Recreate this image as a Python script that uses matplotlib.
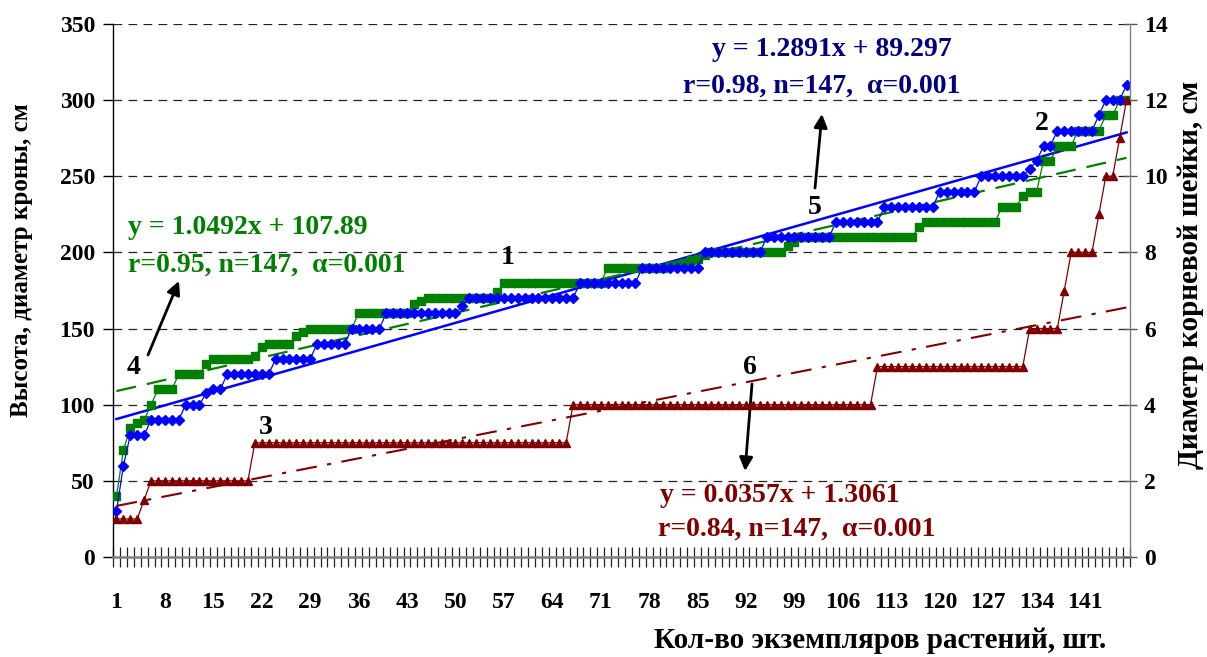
import numpy as np
import matplotlib
matplotlib.use("Agg")
import matplotlib.pyplot as plt
from matplotlib.ticker import FixedLocator, NullFormatter

# ---------------- data ----------------
plant_no = list(range(1, 148))
xtick_labels = [1, 8, 15, 22, 29, 36, 43, 50, 57, 64, 71, 78, 85, 92, 99, 106, 113, 120, 127, 134, 141]

# series 1: height, cm (left axis)
height = [
    30, 60, 80, 80, 80, 90, 90, 90, 90, 90,
    100, 100, 100, 108, 110, 110, 120, 120, 120, 120,
    120, 120, 120, 130, 130, 130, 130, 130, 130, 140,
    140, 140, 140, 140, 150, 150, 150, 150, 150, 160,
    160, 160, 160, 160, 160, 160, 160, 160, 160, 160,
    165, 170, 170, 170, 170, 170, 170, 170, 170, 170,
    170, 170, 170, 170, 170, 170, 170, 180, 180, 180,
    180, 180, 180, 180, 180, 180, 190, 190, 190, 190,
    190, 190, 190, 190, 190, 200, 200, 200, 200, 200,
    200, 200, 200, 200, 210, 210, 210, 210, 210, 210,
    210, 210, 210, 210, 220, 220, 220, 220, 220, 220,
    220, 230, 230, 230, 230, 230, 230, 230, 230, 240,
    240, 240, 240, 240, 240, 250, 250, 250, 250, 250,
    250, 250, 255, 260, 270, 270, 280, 280, 280, 280,
    280, 280, 290, 300, 300, 300, 310]

# series 2: crown diameter, cm (left axis)
crown = [
    40, 70, 85, 88, 90, 100, 110, 110, 110, 120,
    120, 120, 120, 127, 130, 130, 130, 130, 130, 130,
    132, 138, 140, 140, 140, 140, 145, 148, 150, 150,
    150, 150, 150, 150, 150, 160, 160, 160, 160, 160,
    160, 160, 160, 166, 168, 170, 170, 170, 170, 170,
    170, 170, 170, 170, 170, 174, 180, 180, 180, 180,
    180, 180, 180, 180, 180, 180, 180, 180, 180, 180,
    180, 190, 190, 190, 190, 190, 190, 190, 190, 190,
    191, 192, 193, 195, 196, 198, 200, 200, 200, 200,
    200, 200, 200, 200, 200, 200, 200, 204, 207, 210,
    210, 210, 210, 210, 210, 210, 210, 210, 210, 210,
    210, 210, 210, 210, 210, 210, 217, 220, 220, 220,
    220, 220, 220, 220, 220, 220, 220, 220, 230, 230,
    230, 237, 240, 240, 260, 260, 270, 270, 270, 280,
    280, 280, 280, 290, 290, 300, 300]

# series 3: root collar diameter, cm (right axis)
root_collar = [
    1, 1, 1, 1, 1.5, 2, 2, 2, 2, 2,
    2, 2, 2, 2, 2, 2, 2, 2, 2, 2,
    3, 3, 3, 3, 3, 3, 3, 3, 3, 3,
    3, 3, 3, 3, 3, 3, 3, 3, 3, 3,
    3, 3, 3, 3, 3, 3, 3, 3, 3, 3,
    3, 3, 3, 3, 3, 3, 3, 3, 3, 3,
    3, 3, 3, 3, 3, 3, 4, 4, 4, 4,
    4, 4, 4, 4, 4, 4, 4, 4, 4, 4,
    4, 4, 4, 4, 4, 4, 4, 4, 4, 4,
    4, 4, 4, 4, 4, 4, 4, 4, 4, 4,
    4, 4, 4, 4, 4, 4, 4, 4, 4, 4,
    5, 5, 5, 5, 5, 5, 5, 5, 5, 5,
    5, 5, 5, 5, 5, 5, 5, 5, 5, 5,
    5, 5, 6, 6, 6, 6, 6, 7, 8, 8,
    8, 8, 9, 10, 10, 11, 12]

# trend lines as given on the chart
trend_height = (1.2891, 89.297)
trend_crown = (1.0492, 107.89)
trend_root = (0.0357, 1.3061)

eq_height = ["y = 1.2891x + 89.297", "r=0.98, n=147,  \u03b1=0.001"]
eq_crown = ["y = 1.0492x + 107.89", "r=0.95, n=147,  \u03b1=0.001"]
eq_root = ["y = 0.0357x + 1.3061", "r=0.84, n=147,  \u03b1=0.001"]

xlabel = "Кол-во экземпляров растений, шт."
ylabel_left = "Высота, диаметр кроны, см"
ylabel_right = "Диаметр корневой шейки, см"

# ---------------- styling ----------------
plt.rcParams["font.family"] = ["Liberation Serif", "DejaVu Serif"]
plt.rcParams["font.weight"] = "bold"

W, H = 1207, 657
fig = plt.figure(figsize=(W / 100, H / 100), dpi=100)
L, R, T, B = 113, 1130, 24, 557
ax = fig.add_axes([L / W, 1 - B / H, (R - L) / W, (B - T) / H])
ax2 = ax.twinx()

BLUE = "#0000FF"
GREEN = "#008000"
DRED = "#800000"
NAVY = "#000080"

x = np.array(plant_no)
ax.set_xlim(0.5, 147.5)
ax.set_ylim(0, 350)
ax2.set_ylim(0, 14)

# gridlines
for yv in range(50, 351, 50):
    ax.axhline(yv, color="#222222", lw=0.9, ls=(0, (7, 5)), zorder=0.5)

# trend lines
ax.plot(x, trend_height[0] * x + trend_height[1], color=BLUE, lw=1.8, zorder=3)
ax.plot(x, trend_crown[0] * x + trend_crown[1], color=GREEN, lw=1.6,
        ls=(0, (9, 5)), zorder=3)
ax2.plot(x, trend_root[0] * x + trend_root[1], color=DRED, lw=1.5,
         ls=(0, (10, 5, 2, 5)), zorder=3)

# data series
ax.plot(x, crown, color=GREEN, lw=0.9, marker="s", ms=5.2, mec=GREEN, mfc=GREEN, zorder=4)
ax.plot(x, height, color=BLUE, lw=0.9, marker="D", ms=4.6, mec=BLUE, mfc=BLUE, zorder=5)
ax2.plot(x, root_collar, color=DRED, lw=0.9, marker="^", ms=6, mec=DRED, mfc=DRED, zorder=4)

# spines
ax.spines["top"].set_visible(False)
ax2.spines["top"].set_visible(False)
ax.spines["bottom"].set_color("#808080")
ax.spines["bottom"].set_linewidth(1.8)
ax2.spines["bottom"].set_visible(False)
ax.spines["left"].set_color("black")
ax.spines["left"].set_linewidth(1.0)
ax2.spines["left"].set_visible(False)
ax2.spines["right"].set_color("#808080")
ax2.spines["right"].set_linewidth(1.0)
ax.spines["right"].set_visible(False)

# x ticks
ax.xaxis.set_major_locator(FixedLocator(xtick_labels))
ax.set_xticklabels([str(v) for v in xtick_labels], fontsize=17, fontweight="bold")
ax.xaxis.set_minor_locator(FixedLocator(np.arange(0.5, 148, 1.0)))
ax.xaxis.set_minor_formatter(NullFormatter())
ax.tick_params(axis="x", which="major", length=0, pad=25)
ax.tick_params(axis="x", which="minor", direction="inout", length=14, width=0.9, color="#222222")

# y ticks
ax.set_yticks(range(0, 351, 50))
ax.tick_params(axis="y", which="major", direction="out", length=7, width=1.0,
               labelsize=17, pad=6)
for t in ax.get_yticklabels():
    t.set_fontweight("bold")
ax2.set_yticks(range(0, 15, 2))
ax2.tick_params(axis="y", which="major", direction="inout", length=10, width=1.0,
                labelsize=17, pad=5, color="#555555")
for t in ax2.get_yticklabels():
    t.set_fontweight("bold")

# axis labels
fig.text(880 / W, 1 - 641 / H, xlabel, ha="center", va="center", fontsize=21, fontweight="bold")
fig.text(22 / W, 1 - 260 / H, ylabel_left, ha="center", va="center", rotation=90,
         fontsize=18, fontweight="bold")
fig.text(1190 / W, 1 - 275 / H, ylabel_right, ha="center", va="center", rotation=90,
         fontsize=21, fontweight="bold")

# equations
def ftxt(px, py, s, color):
    fig.text(px / W, 1 - py / H, s, ha="left", va="center", fontsize=20,
             fontweight="bold", color=color)

ftxt(712, 50, eq_height[0], NAVY)
ftxt(683, 86, eq_height[1], NAVY)
ftxt(128, 228, eq_crown[0], GREEN)
ftxt(128, 265, eq_crown[1], GREEN)
ftxt(660, 495, eq_root[0], DRED)
ftxt(658, 529, eq_root[1], DRED)

# pixel -> data helpers
def dx(px):
    return (px - L) / ((R - L) / 147.0) + 0.5

def dy(py):
    return (B - py) / ((B - T) / 350.0)

# number labels
for s, px, py in [("1", 508, 258), ("2", 1042, 124), ("3", 266, 427),
                  ("4", 134, 367), ("5", 815, 207), ("6", 750, 368)]:
    ax.text(dx(px), dy(py), s, ha="center", va="center", fontsize=20,
            fontweight="bold", color="black", zorder=6)

# arrows
arrow_kw = dict(arrowstyle="-|>", color="black", lw=2.0, mutation_scale=20, shrinkA=0, shrinkB=0)
for (x0, y0, x1, y1) in [(148, 355, 179, 281), (815, 188, 822, 114), (752, 384, 745, 471)]:
    ax.annotate("", xy=(dx(x1), dy(y1)), xytext=(dx(x0), dy(y0)),
                arrowprops=arrow_kw, zorder=6)

fig.savefig("out.png", dpi=100)
